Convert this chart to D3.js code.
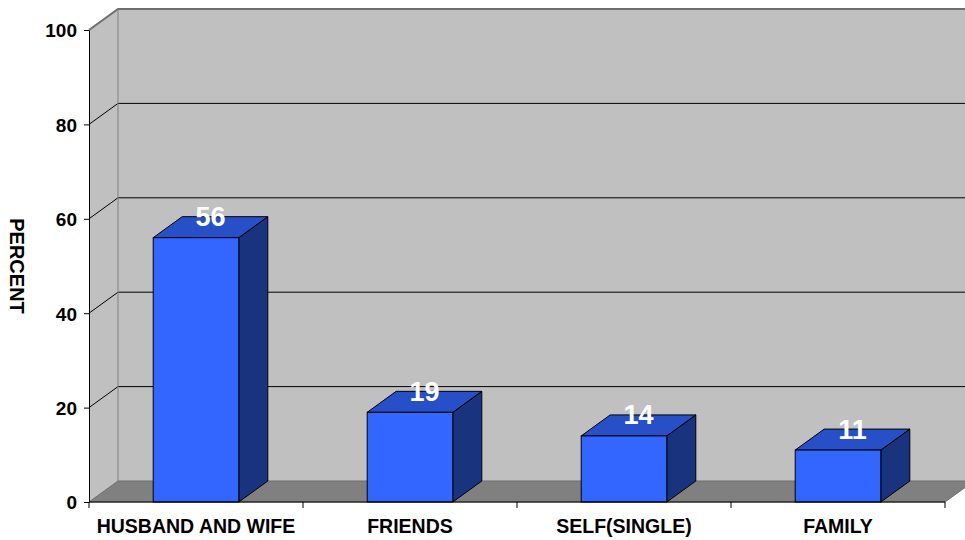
<!DOCTYPE html>
<html>
<head>
<meta charset="utf-8">
<script src="https://cdn.jsdelivr.net/npm/d3@7/dist/d3.min.js"></script>
<style>
  html, body { margin: 0; padding: 0; background: #ffffff; }
  svg { display: block; font-family: "Liberation Sans", Arial, sans-serif; font-weight: bold; }
</style>
</head>
<body>
<svg id="chart" width="965" height="540"></svg>
<script>
// Household composition, percent of respondents
const categories = ["HUSBAND AND WIFE", "FRIENDS", "SELF(SINGLE)", "FAMILY"];
const values = [56, 19, 14, 11];
const yTicks = [0, 20, 40, 60, 80, 100];
const yTitle = "PERCENT";

(function draw() {
  const svg = d3.select("#chart");

  // Front plane of the 3-D plot box, plus the depth offset to the back wall
  const plotLeft = 89, plotRight = 945, plotTop = 30, plotBottom = 502;
  const dx = 29, dy = -21;

  const y = d3.scaleLinear().domain([0, 100]).range([plotBottom, plotTop]);
  const x = d3.scaleBand().domain(categories).range([plotLeft, plotRight])
    .paddingInner(0.6).paddingOuter(0.3);

  const wallFill = "#c0c0c0", floorFill = "#808080", edge = "#808080";
  const farRight = plotRight + dx + 10;

  // Left side wall
  svg.append("polygon")
    .attr("points", [[plotLeft, y(0)], [plotLeft, y(100)], [plotLeft + dx, y(100) + dy], [plotLeft + dx, y(0) + dy]].join(" "))
    .attr("fill", wallFill);

  // Back wall
  svg.append("rect")
    .attr("x", plotLeft + dx).attr("y", y(100) + dy)
    .attr("width", farRight - (plotLeft + dx)).attr("height", y(0) - y(100))
    .attr("fill", wallFill);

  // Gridlines on the back wall and the matching diagonals on the side wall
  const grid = svg.append("g");
  yTicks.filter(v => v > 0 && v < 100).forEach(v => {
    grid.append("line")
      .attr("x1", plotLeft + dx).attr("x2", farRight)
      .attr("y1", y(v) + dy).attr("y2", y(v) + dy)
      .attr("stroke", "#000").attr("stroke-width", 1);
    grid.append("line")
      .attr("x1", plotLeft).attr("y1", y(v))
      .attr("x2", plotLeft + dx).attr("y2", y(v) + dy)
      .attr("stroke", "#000").attr("stroke-width", 1);
  });

  // Top edges of the walls
  svg.append("polyline")
    .attr("points", [[plotLeft, y(100)], [plotLeft + dx, y(100) + dy], [farRight, y(100) + dy]].join(" "))
    .attr("fill", "none").attr("stroke", "#6e6e6e").attr("stroke-width", 2);
  // Back wall's left corner edge
  svg.append("line")
    .attr("x1", plotLeft + dx).attr("x2", plotLeft + dx)
    .attr("y1", y(100) + dy).attr("y2", y(0) + dy)
    .attr("stroke", edge).attr("stroke-width", 1);

  // Floor
  svg.append("polygon")
    .attr("points", [[plotLeft, y(0)], [plotRight, y(0)], [plotRight + dx, y(0) + dy], [plotLeft + dx, y(0) + dy]].join(" "))
    .attr("fill", floorFill).attr("stroke", "#6e6e6e").attr("stroke-width", 1);

  // 3-D columns
  const bars = svg.append("g").selectAll("g").data(values).join("g");
  bars.each(function (v, i) {
    const g = d3.select(this);
    const x0 = x(categories[i]), x1 = x0 + x.bandwidth();
    const yt = y(v), yb = y(0);
    // right side face
    g.append("polygon")
      .attr("points", [[x1, yt], [x1 + dx, yt + dy], [x1 + dx, yb + dy], [x1, yb]].join(" "))
      .attr("fill", "#1a337f").attr("stroke", "#000").attr("stroke-width", 1).attr("stroke-linejoin", "round");
    // top face
    g.append("polygon")
      .attr("points", [[x0, yt], [x0 + dx, yt + dy], [x1 + dx, yt + dy], [x1, yt]].join(" "))
      .attr("fill", "#264fc8").attr("stroke", "#000").attr("stroke-width", 1).attr("stroke-linejoin", "round");
    // front face
    g.append("rect")
      .attr("x", x0).attr("y", yt).attr("width", x1 - x0).attr("height", yb - yt)
      .attr("fill", "#3366ff").attr("stroke", "#000").attr("stroke-width", 1);
  });

  // Value labels sitting on the top faces
  svg.append("g").selectAll("text").data(values).join("text")
    .attr("x", (v, i) => x(categories[i]) + x.bandwidth() / 2 + dx / 2)
    .attr("y", v => y(v) + dy / 2 - 1)
    .attr("text-anchor", "middle")
    .attr("fill", "#ffffff")
    .attr("font-size", 27)
    .text(v => v);

  // Y axis
  const yAxis = d3.axisLeft(y).tickValues(yTicks).tickSize(5).tickSizeOuter(0).tickPadding(7);
  const gy = svg.append("g").attr("transform", `translate(${plotLeft},0)`).call(yAxis);
  gy.select(".domain").attr("stroke", "#000");
  gy.selectAll(".tick line").attr("stroke", "#000");
  gy.selectAll(".tick text")
    .attr("font-family", "Liberation Sans, Arial, sans-serif")
    .attr("font-weight", "bold").attr("font-size", 19).attr("fill", "#000")
    .attr("dy", "0.36em");

  // X axis: front edge with ticks at category boundaries
  const gx = svg.append("g");
  gx.append("line")
    .attr("x1", plotLeft).attr("x2", plotRight).attr("y1", plotBottom).attr("y2", plotBottom)
    .attr("stroke", "#000").attr("stroke-width", 1);
  const boundaries = categories.map(c => x(c) - x.step() * x.paddingOuter()).concat([plotRight]);
  gx.selectAll("line.tick").data(boundaries).join("line")
    .attr("class", "tick")
    .attr("x1", d => d).attr("x2", d => d)
    .attr("y1", plotBottom).attr("y2", plotBottom + 6)
    .attr("stroke", "#000");
  gx.selectAll("text").data(categories).join("text")
    .attr("x", d => x(d) + x.bandwidth() / 2)
    .attr("y", 533)
    .attr("text-anchor", "middle")
    .attr("font-size", 19.5)
    .attr("fill", "#000")
    .text(d => d);

  // Y axis title
  svg.append("text")
    .attr("transform", `translate(10,${(plotTop + plotBottom) / 2}) rotate(90)`)
    .attr("text-anchor", "middle")
    .attr("font-size", 20)
    .attr("fill", "#000")
    .text(yTitle);
})();
</script>
</body>
</html>
